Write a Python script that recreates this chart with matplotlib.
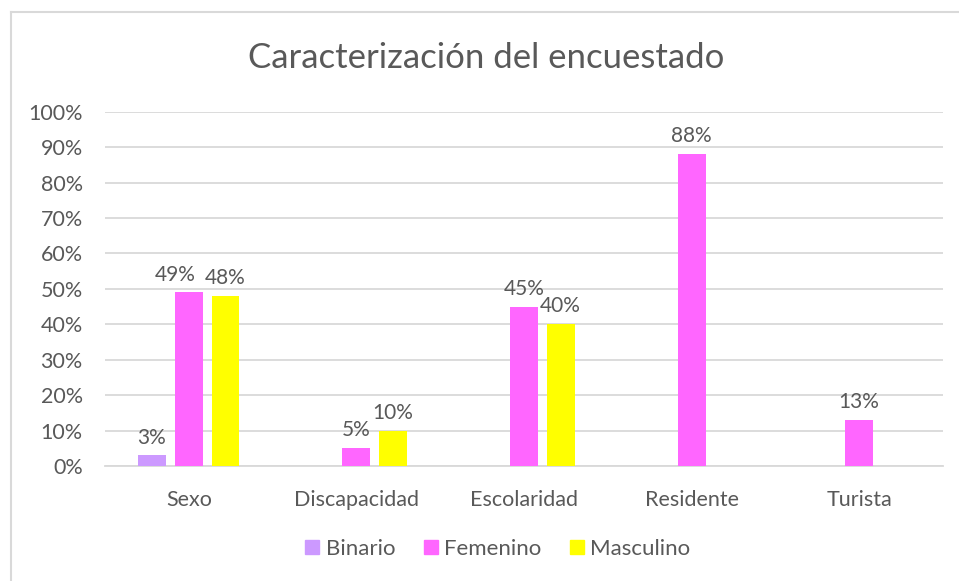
import numpy as np
import matplotlib.pyplot as plt
from matplotlib.lines import Line2D

# datos (porcentajes)
categorias = ['Sexo', 'Discapacidad', 'Escolaridad', 'Residente', 'Turista']
binario = [3, None, None, None, None]
femenino = [49, 5, 45, 88, 13]
masculino = [48, 10, 40, None, None]
yticks = [0, 10, 20, 30, 40, 50, 60, 70, 80, 90, 100]

series = [('Binario', binario, '#cc99ff'),
          ('Femenino', femenino, '#ff66ff'),
          ('Masculino', masculino, '#ffff00')]

gris = '#595959'
plt.rcParams['font.family'] = ['Lato', 'DejaVu Sans']

W, H = 959, 581
fig = plt.figure(figsize=(W / 100, H / 100), dpi=100)
ax = fig.add_axes([105 / W, 115 / H, (943 - 105) / W, (466 - 111.7) / H])

x = np.arange(len(categorias))
ancho = 0.167
desp = [-0.222, 0, 0.219]
# la etiqueta de 49% está corrida a la izquierda en el original
corrida = {(1, 0): -0.08}

for k, ((nombre, vals, color), d) in enumerate(zip(series, desp)):
    for i, v in enumerate(vals):
        if v is None:
            continue
        ax.bar(x[i] + d, v, width=ancho, color=color, zorder=3)
        ax.text(x[i] + d + corrida.get((k, i), 0), v + 2.2, f'{v}%',
                ha='center', va='bottom', fontsize=15, color=gris, zorder=4)

ax.set_xlim(-0.5, len(categorias) - 0.5)
ax.set_ylim(0, 100)
ax.set_yticks(yticks)
ax.set_yticklabels([f'{t}%' for t in yticks])
ax.set_xticks(x)
ax.set_xticklabels(categorias)
ax.tick_params(axis='both', length=0, labelsize=15.5, colors=gris)
ax.tick_params(axis='y', pad=16)
ax.tick_params(axis='x', pad=17)
ax.grid(axis='y', color='#d9d9d9', linewidth=1.3, zorder=0)
for s in ['top', 'right', 'left']:
    ax.spines[s].set_visible(False)
ax.spines['bottom'].set_color('#d9d9d9')
ax.spines['bottom'].set_linewidth(1.3)

# título
fig.text(486 / W, 1 - 58 / H, 'Caracterización del encuestado', ha='center',
         va='center', fontsize=25, color=gris)

# leyenda
handles = [Line2D([0], [0], marker='s', linestyle='none', markersize=10,
                  markerfacecolor=c, markeredgecolor=c) for _, _, c in series]
fig.legend(handles, [n for n, _, _ in series], loc='center',
           bbox_to_anchor=(497 / W, 1 - 549 / H), ncol=3, frameon=False,
           fontsize=16, labelcolor=gris, handletextpad=0.2, columnspacing=1.2,
           handlelength=0.8)

# borde del área del gráfico
fig.add_artist(Line2D([11 / W, 1], [1 - 12 / H, 1 - 12 / H], color='#d9d9d9',
                      linewidth=1.5, transform=fig.transFigure))
fig.add_artist(Line2D([11 / W, 11 / W], [0, 1 - 12 / H], color='#d9d9d9',
                      linewidth=1.5, transform=fig.transFigure))

fig.savefig('out.png', dpi=100)
